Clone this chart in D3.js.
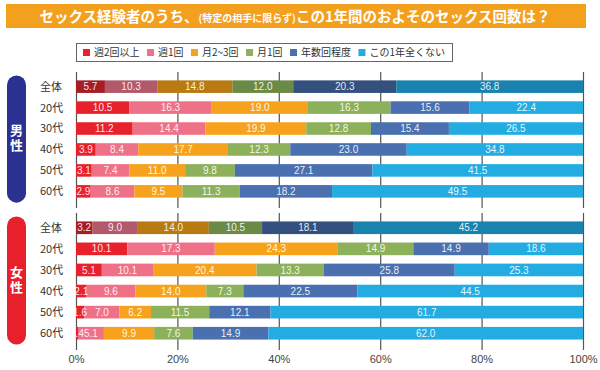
<!DOCTYPE html>
<html>
<head>
<meta charset="utf-8">
<script src="https://cdn.jsdelivr.net/npm/d3@7"></script>
<style>
  body { margin: 0; background: #fff; }
  svg { display: block; }
</style>
</head>
<body>
<script>
// answer categories (legend order)
var keys = ["週2回以上", "週1回", "月2~3回", "月1回", "年数回程度", "この1年全くない"];
var ages = ["全体", "20代", "30代", "40代", "50代", "60代"];

// percentages, one row per age group
var male = [
  [5.7, 10.3, 14.8, 12.0, 20.3, 36.8],
  [10.5, 16.3, 19.0, 16.3, 15.6, 22.4],
  [11.2, 14.4, 19.9, 12.8, 15.4, 26.5],
  [3.9, 8.4, 17.7, 12.3, 23.0, 34.8],
  [3.1, 7.4, 11.0, 9.8, 27.1, 41.5],
  [2.9, 8.6, 9.5, 11.3, 18.2, 49.5]
];
var female = [
  [3.2, 9.0, 14.0, 10.5, 18.1, 45.2],
  [10.1, 17.3, 24.3, 14.9, 14.9, 18.6],
  [5.1, 10.1, 20.4, 13.3, 25.8, 25.3],
  [2.1, 9.6, 14.0, 7.3, 22.5, 44.5],
  [1.6, 7.0, 6.2, 11.5, 12.1, 61.7],
  [0.4, 5.1, 9.9, 7.6, 14.9, 62.0]
];
var ticks = [0, 0.2, 0.4, 0.6, 0.8, 1];

var colors = ["#e8222c", "#ef7188", "#f7a21c", "#8db05b", "#4a70af", "#23ace2"];
var darkColors = ["#a61d26", "#b2596c", "#b97a12", "#6a8a46", "#34507f", "#1a82ae"];

var width = 600, height = 370;
var jp = "'Noto Sans CJK JP', 'Noto Sans', sans-serif";
var num = "'Liberation Sans', Arial, sans-serif";

var svg = d3.select("body").append("svg")
    .attr("width", width)
    .attr("height", height);

// title banner
svg.append("rect")
    .attr("x", 6).attr("y", 4)
    .attr("width", 580).attr("height", 24)
    .attr("fill", "#f4a01f");

var title = svg.append("text")
    .attr("x", 295)
    .attr("y", 21.5)
    .attr("text-anchor", "middle")
    .attr("fill", "#fff")
    .attr("font-family", jp)
    .attr("font-weight", "bold");
title.append("tspan").attr("font-size", "14.5px").text("セックス経験者のうち、");
title.append("tspan").attr("font-size", "10px").text("(特定の相手に限らず)");
title.append("tspan").attr("font-size", "14.5px").text("この1年間のおよそのセックス回数は？");

// legend
var legend = svg.append("g");
legend.append("rect")
    .attr("x", 76.5).attr("y", 43.5)
    .attr("width", 376).attr("height", 18)
    .attr("fill", "#fff")
    .attr("stroke", "#666")
    .attr("stroke-width", 1);

var labels = keys.map(k => legend.append("text")
    .attr("y", 56)
    .attr("font-family", jp)
    .attr("font-size", "10px")
    .attr("fill", "#333")
    .text(k));
var widths = labels.map(t => t.node().getComputedTextLength());
var used = d3.sum(widths) + keys.length * 11;
var gap = (445 - 83 - used) / (keys.length - 1);
var lx = 83;
keys.forEach((k, i) => {
    legend.append("rect")
        .attr("x", lx).attr("y", 49)
        .attr("width", 7).attr("height", 7)
        .attr("fill", colors[i]);
    labels[i].attr("x", lx + 11);
    lx += 11 + widths[i] + gap;
});

// scales
var x = d3.scaleLinear().domain([0, 1]).range([76, 583]);

var stack = d3.stack()
    .keys(d3.range(keys.length))
    .offset(d3.stackOffsetExpand);

function section(data, top, bottom, pillColor, pillText, showLabels) {
    var y = d3.scaleBand()
        .domain(ages)
        .range([top, bottom - 2])
        .padding(0.4);

    // gridlines
    var axis = d3.axisBottom(x)
        .tickValues(ticks)
        .tickSizeInner(-(bottom - top))
        .tickSizeOuter(0)
        .tickPadding(5)
        .tickFormat(showLabels ? d3.format(".0%") : "");
    var g = svg.append("g")
        .attr("transform", "translate(0," + bottom + ")")
        .call(axis);
    g.select(".domain").remove();
    g.selectAll(".tick line")
        .attr("stroke", "#555")
        .attr("stroke-width", 1.2);
    g.selectAll(".tick text")
        .attr("font-family", num)
        .attr("font-size", "11px")
        .attr("fill", "#444");

    var rows = data.map((r, i) => {
        var o = {age: ages[i]};
        r.forEach((v, j) => o[j] = v);
        return o;
    });
    var series = stack(rows);

    series.forEach((s, j) => {
        s.forEach((d, i) => {
            var c = i === 0 ? darkColors[j] : colors[j];
            svg.append("rect")
                .attr("x", x(d[0]))
                .attr("y", y(d.data.age))
                .attr("width", x(d[1]) - x(d[0]))
                .attr("height", y.bandwidth())
                .attr("fill", c);
        });
    });
    series.forEach((s, j) => {
        s.forEach((d, i) => {
            svg.append("text")
                .attr("x", (x(d[0]) + x(d[1])) / 2)
                .attr("y", y(d.data.age) + y.bandwidth() / 2)
                .attr("dy", "0.36em")
                .attr("text-anchor", "middle")
                .attr("font-family", num)
                .attr("font-size", "10px")
                .attr("fill", "#fff")
                .attr("fill-opacity", 0.9)
                .text(data[i][j].toFixed(1));
        });
    });

    // age labels
    ages.forEach(a => {
        svg.append("text")
            .attr("x", 40)
            .attr("y", y(a) + y.bandwidth() / 2)
            .attr("dy", "0.36em")
            .attr("font-family", jp)
            .attr("font-size", "11px")
            .attr("fill", "#333")
            .text(a);
    });

    // sex pill with vertical label
    var p0 = y(ages[0]) - 5, p1 = y(ages[ages.length - 1]) + y.bandwidth() + 5;
    svg.append("rect")
        .attr("x", 7).attr("y", p0)
        .attr("width", 19).attr("height", p1 - p0)
        .attr("rx", 9.5)
        .attr("fill", pillColor);
    svg.append("text")
        .attr("x", 16.5)
        .attr("y", (p0 + p1) / 2)
        .attr("writing-mode", "vertical-rl")
        .attr("text-anchor", "middle")
        .attr("font-family", jp)
        .attr("font-weight", "bold")
        .attr("font-size", "13px")
        .attr("letter-spacing", "2px")
        .attr("fill", "#fff")
        .text(pillText);
}

section(male, 72, 208, "#2b3190", "男性", false);
section(female, 213, 350, "#e8202b", "女性", true);
</script>
</body>
</html>
